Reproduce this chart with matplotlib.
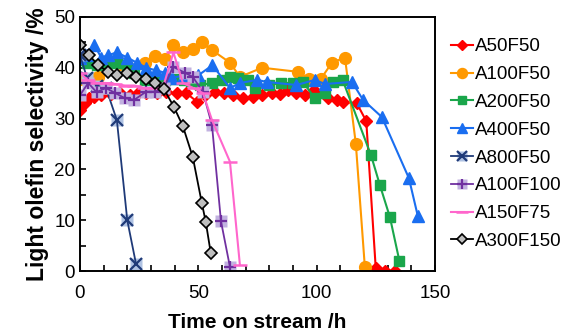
import numpy as np
import matplotlib
matplotlib.use("Agg")
import matplotlib.pyplot as plt
from matplotlib.ticker import MultipleLocator

plt.rcParams["font.family"] = ["Liberation Sans", "DejaVu Sans"]

# A50F50
t_a50f50 = [0, 2, 4, 6, 9, 13, 17, 21, 24.5, 28, 32.5, 36.5, 41, 45, 49.5, 53, 57, 61,
            64.5, 69, 73, 77, 81, 84.5, 88, 91.5, 95, 99, 105, 108.5, 111, 117, 121,
            125, 129, 133]
v_a50f50 = [31.7, 33, 34, 34.3, 34.6, 34.8, 35, 34.6, 35, 35, 35, 35.2, 35, 35, 33.3,
            34.6, 35.2, 35, 34.6, 34, 34.3, 34.6, 35, 34.8, 35.6, 35, 34.6, 35.6, 34,
            33.7, 33.3, 33, 29.5, 0.6, 0, 0.1]
# A100F50
t_a100f50 = [0, 7.6, 27.5, 31.7, 36, 39.5, 43.5, 47.7, 51.5, 55.7, 63.4, 67.6, 77, 92,
             96.8, 101.8, 106.5, 112, 116.6, 120.4]
v_a100f50 = [37.8, 38.2, 41, 42.3, 41.7, 44.5, 43, 43.7, 45, 43.5, 41, 38.2, 40, 39.2,
             37.8, 37.8, 41, 42, 25, 0.8]
# A200F50
t_a200f50 = [0, 3, 7, 11, 15.6, 20, 23, 27.5, 32.5, 36, 40, 44, 47, 50.7, 56, 60, 63.4,
             67, 71, 74, 80, 85, 90, 94.2, 99.3, 103.5, 107, 111, 123, 126.7, 131, 135]
v_a200f50 = [41.5, 41, 40.5, 40.5, 41, 40, 39, 37.6, 37.2, 37.5, 37.8, 37.5, 37.3, 36.6,
             37, 37.5, 38.2, 38, 37.6, 36, 36.6, 37, 37, 37.2, 34, 35, 37.2, 37.6, 22.8,
             17, 10.6, 2]
# A400F50
t_a400f50 = [0, 3, 6, 9, 12, 15.6, 20, 24, 28, 32, 36, 39, 44, 50, 56, 63.4, 67.6, 75,
             79, 91.5, 99.3, 103.5, 115, 119.6, 127.6, 139, 142.8]
v_a400f50 = [42, 42.5, 44.5, 42, 42.5, 43, 42, 41, 40, 39.5, 39, 38, 38.5, 38.5, 40.5,
             36, 37, 37.6, 37.2, 36.6, 37.6, 36.8, 37.2, 33.7, 30.3, 18.3, 10.8]
# A800F50
t_a800f50 = [0, 3, 7, 11, 15.6, 20, 23.7]
v_a800f50 = [42.5, 38, 36.5, 36, 29.7, 10, 1.4]
# A100F100
t_a100f100 = [0, 3.5, 7, 11, 15, 19, 23, 28, 31.7, 35.5, 39.3, 44.4, 47.7, 52, 55.8,
              59.6, 63.4]
v_a100f100 = [34.6, 37, 35.2, 36, 35, 34, 33.7, 35.3, 35.3, 36, 40.2, 39, 38.2, 35.2,
              28.7, 9.8, 0.8]
# A150F75
t_a150f75 = [0, 3.5, 7, 11, 15, 19, 23, 27, 31, 35, 39.5, 43.5, 48, 52, 55.8, 63.4, 67.6]
v_a150f75 = [39, 37.5, 37, 37, 36.8, 36.5, 36.5, 36, 36, 36, 43, 37, 36, 35, 29.7,
             21.5, 1.2]
# A300F150
t_a300f150 = [0, 3.8, 7.7, 12, 15.6, 19.8, 23.7, 27.9, 31.7, 35.5, 39.7, 43.5, 47.7,
              51.5, 53.2, 55.3]
v_a300f150 = [44.5, 42.5, 40.5, 39.2, 38.6, 39, 38.2, 37.8, 37, 35.8, 32.3, 28.5, 22.4,
              13.4, 9.6, 3.5]

fig = plt.figure(figsize=(5.67, 3.31), dpi=100)
ax = fig.add_axes([0.141, 0.181, 0.626, 0.768])

h1, = ax.plot(t_a50f50, v_a50f50, color="#FF0000", lw=1.5, marker="D", ms=6,
              mec="#FF0000", mfc="#FF0000")
h2, = ax.plot(t_a100f50, v_a100f50, color="#FF9900", lw=1.5, marker="o", ms=8.5,
              mec="#FF9900", mfc="#FF9900")
h3, = ax.plot(t_a200f50, v_a200f50, color="#1AA64B", lw=1.5, marker="s", ms=7,
              mec="#1AA64B", mfc="#1AA64B")
h4, = ax.plot(t_a400f50, v_a400f50, color="#1A6EF0", lw=1.5, marker="^", ms=8.5,
              mec="#1A6EF0", mfc="#1A6EF0")
h5a, = ax.plot(t_a800f50, v_a800f50, color="#1F3A78", lw=1.3, ls="none", marker="s",
               ms=8, mec="none", mfc="#AFC2E3")
h5b, = ax.plot(t_a800f50, v_a800f50, color="#1F3A78", lw=1.3, marker="x", ms=8, mew=1.6)
h6a, = ax.plot(t_a100f100, v_a100f100, ls="none", marker="s", ms=8, mec="none",
               mfc="#C2B2E0")
h6b, = ax.plot(t_a100f100, v_a100f100, color="#7030A0", lw=1.3, marker="+", ms=9, mew=1.6)
h7, = ax.plot(t_a150f75, v_a150f75, color="#FF66CC", lw=1.5, marker="_", ms=10, mew=1.8)
h8, = ax.plot(t_a300f150, v_a300f150, color="black", lw=1.3, marker="D", ms=6.5,
              mec="black", mfc="#BFBFBF", mew=1.2)

ax.set_xlim(0, 150)
ax.set_ylim(0, 50)
ax.xaxis.set_major_locator(MultipleLocator(50))
ax.xaxis.set_minor_locator(MultipleLocator(10))
ax.yaxis.set_major_locator(MultipleLocator(10))
ax.yaxis.set_minor_locator(MultipleLocator(5))
ax.tick_params(which="both", direction="in", length=4, width=1.2, labelsize=13.5,
               top=False, right=False)
ax.tick_params(axis="x", pad=10)
for s in ax.spines.values():
    s.set_linewidth(1.4)

ax.set_xlabel("Time on stream /h", fontsize=15, fontweight="bold", labelpad=8)
ax.set_ylabel("Light olefin selectivity /%", fontsize=16.5, fontweight="bold", labelpad=4)

handles = [h1, h2, h3, h4, (h5a, h5b), (h6a, h6b), h7, h8]
labels = ["A50F50", "A100F50", "A200F50", "A400F50", "A800F50", "A100F100",
          "A150F75", "A300F150"]
fig.legend(handles, labels, loc="upper left", bbox_to_anchor=(0.778, 0.913),
           frameon=False, fontsize=13.5, handlelength=1.2, handletextpad=0.1,
           labelspacing=0.57, borderpad=0, markerscale=0.85)

plt.savefig("out.png", dpi=100)
